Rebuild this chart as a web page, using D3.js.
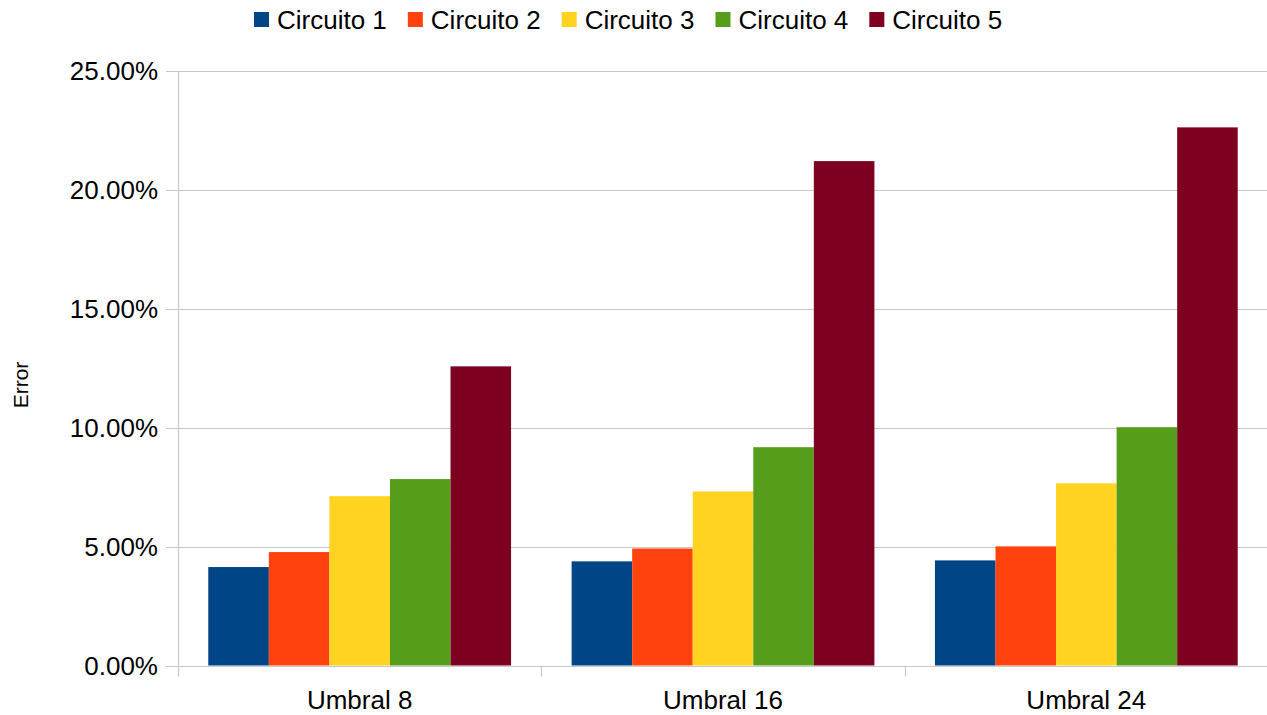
<!DOCTYPE html>
<html><head><meta charset="utf-8">
<script src="https://cdn.jsdelivr.net/npm/d3@7"></script>
<style>body{margin:0;background:#fff}svg{display:block;font-family:"Liberation Sans",Arial,sans-serif}</style>
</head><body><svg id="c" width="1267" height="715"></svg>
<script>
const categories = ["Umbral 8", "Umbral 16", "Umbral 24"];
const seriesNames = ["Circuito 1", "Circuito 2", "Circuito 3", "Circuito 4", "Circuito 5"];
const circuito1 = [0.0414, 0.0438, 0.0442];
const circuito2 = [0.0477, 0.0492, 0.0501];
const circuito3 = [0.0712, 0.0732, 0.0766];
const circuito4 = [0.0784, 0.0918, 0.1002];
const circuito5 = [0.1258, 0.2121, 0.2263];
const seriesValues = [circuito1, circuito2, circuito3, circuito4, circuito5];
const colors = ["#004586", "#ff420e", "#ffd320", "#579d1c", "#7e0021"];
const yTicks = [0, 0.05, 0.10, 0.15, 0.20, 0.25];

const svg = d3.select("#c");
const m = {left: 178, right: 1268, top: 71, bottom: 665.5};
const x = d3.scaleBand().domain(categories).range([m.left, m.right]).paddingInner(0).paddingOuter(0);
const xs = d3.scaleBand().domain(seriesNames).range([0, x.bandwidth()]).paddingInner(0).paddingOuter(0.5);
const y = d3.scaleLinear().domain([0, 0.25]).range([m.bottom, m.top]);

// gridlines
svg.append("g").selectAll("line").data(yTicks).join("line")
  .attr("x1", m.left - 12).attr("x2", m.right)
  .attr("y1", d => Math.round(y(d)) + 0.5).attr("y2", d => Math.round(y(d)) + 0.5)
  .attr("stroke", "#c8c8c8").attr("stroke-width", 1.2);

// y-axis line
svg.append("line").attr("x1", m.left + 0.5).attr("x2", m.left + 0.5)
  .attr("y1", y(0.25)).attr("y2", m.bottom + 11).attr("stroke", "#c8c8c8").attr("stroke-width", 1.2);

// x ticks
const xTickPos = categories.map(c => x(c)).concat([m.right]);
svg.append("g").selectAll("line").data(xTickPos.slice(1)).join("line")
  .attr("x1", d => Math.round(d) + 0.5).attr("x2", d => Math.round(d) + 0.5)
  .attr("y1", m.bottom).attr("y2", m.bottom + 11)
  .attr("stroke", "#c8c8c8").attr("stroke-width", 1.2);

// bars
const groups = svg.append("g").selectAll("g").data(seriesNames).join("g").attr("fill", (d, i) => colors[i]);
groups.selectAll("rect").data((s, si) => categories.map((c, ci) => ({c, s, v: seriesValues[si][ci]})))
  .join("rect")
  .attr("x", d => x(d.c) + xs(d.s))
  .attr("width", xs.bandwidth())
  .attr("y", d => y(d.v))
  .attr("height", d => y(0) - y(d.v));

// y tick labels
svg.append("g").selectAll("text").data(yTicks).join("text")
  .attr("x", 158).attr("y", d => y(d)).attr("dy", "0.35em")
  .attr("text-anchor", "end").attr("font-size", 26).attr("fill", "#000")
  .text(d => d3.format(".2%")(d));

// x labels
svg.append("g").selectAll("text").data(categories).join("text")
  .attr("x", d => x(d) + x.bandwidth() / 2).attr("y", 709)
  .attr("text-anchor", "middle").attr("font-size", 26).attr("fill", "#000")
  .text(d => d);

// y title
svg.append("text").attr("transform", "translate(28,385) rotate(-90)")
  .attr("text-anchor", "middle").attr("font-size", 21).text("Error");

// legend
const lg = svg.append("g");
let lx = 254;
seriesNames.forEach((s, i) => {
  lg.append("rect").attr("x", lx).attr("y", 12).attr("width", 15).attr("height", 15).attr("fill", colors[i]);
  const t = lg.append("text").attr("x", lx + 23).attr("y", 28.5).attr("font-size", 26).text(s);
  lx += 23 + t.node().getComputedTextLength() + 21;
});
</script></body></html>
